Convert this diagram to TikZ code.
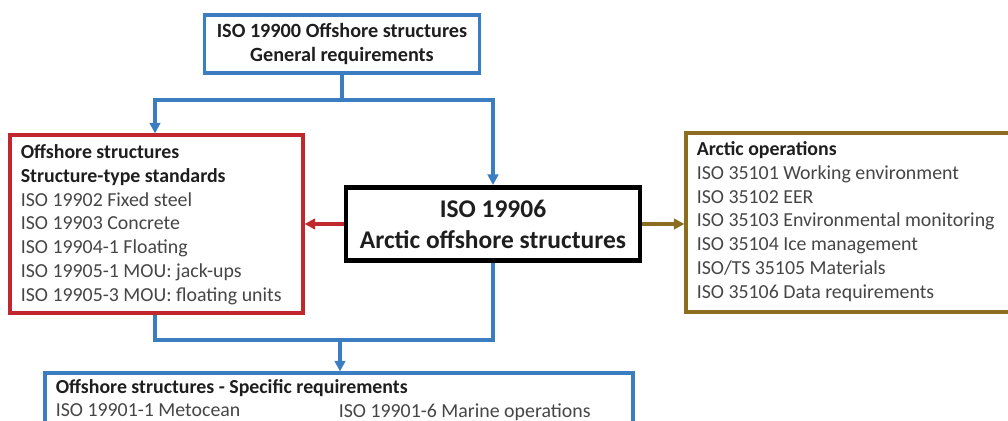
\documentclass[tikz,border=0pt]{standalone}
\usepackage{fontspec}
\setmainfont{Carlito}
\usetikzlibrary{positioning,arrows.meta,calc}
\definecolor{isoblue}{RGB}{58,125,192}
\definecolor{isored}{RGB}{192,40,45}
\definecolor{isoolive}{RGB}{140,108,30}
\definecolor{bodygrey}{RGB}{70,70,70}
\definecolor{headgrey}{RGB}{30,30,30}

\begin{document}
\begin{tikzpicture}[x=0.02cm,y=-0.02cm,
  stdbox/.style={rectangle,line width=1.8pt,fill=white,inner sep=0pt},
  listtext/.style={font=\fontsize{11.3}{13.5}\selectfont,text=bodygrey,align=left,anchor=north west,inner sep=0pt},
  bluelink/.style={isoblue,line width=1.8pt},
  bluearrow/.style={bluelink,-{Triangle[length=6pt,width=6pt]}},
  redarrow/.style={isored,line width=1.8pt,-{Triangle[length=6pt,width=6pt]}},
  olivearrow/.style={isoolive,line width=1.8pt,-{Triangle[length=6pt,width=6pt]}}
]
\clip (0,0) rectangle (1008,421);
\fill[white] (0,0) rectangle (1008,421);

% Top: general requirements
\node[stdbox,draw=isoblue,minimum width=275*0.02cm,minimum height=58*0.02cm,
  font=\bfseries\fontsize{11.5}{13.6}\selectfont,text=headgrey,align=center]
  (general) at (342,44) {ISO 19900 Offshore structures\\General requirements};

% Centre: the standard itself
\node[stdbox,draw=black,line width=2.8pt,minimum width=294*0.02cm,minimum height=73*0.02cm,
  font=\bfseries\fontsize{14.5}{17.6}\selectfont,text=headgrey,align=center]
  (arctic) at (493,224) {ISO 19906\\Arctic offshore structures};

% Left: structure-type standards
\node[stdbox,draw=isored,minimum width=293*0.02cm,minimum height=178*0.02cm]
  (structtype) at (156.5,224) {};
\node[listtext] (structlist) at ([shift={(12,11)}]structtype.north west)
  {\textcolor{headgrey}{\bfseries Offshore structures}\\
   \textcolor{headgrey}{\bfseries Structure-type standards}\\
   ISO 19902 Fixed steel\\
   ISO 19903 Concrete\\
   ISO 19904-1 Floating\\
   ISO 19905-1 MOU: jack-ups\\
   ISO 19905-3 MOU: floating units};

% Right: arctic operations
\node[stdbox,draw=isoolive,minimum width=360*0.02cm,minimum height=179*0.02cm]
  (arcticops) at (866,222.5) {};
\node[listtext] (opslist) at ([shift={(12,10)}]arcticops.north west)
  {\textcolor{headgrey}{\bfseries Arctic operations}\\
   ISO 35101 Working environment\\
   ISO 35102 EER\\
   ISO 35103 Environmental monitoring\\
   ISO 35104 Ice management\\
   ISO/TS 35105 Materials\\
   ISO 35106 Data requirements};

% Bottom: specific requirements
\node[stdbox,draw=isoblue,minimum width=588*0.02cm,minimum height=100*0.02cm]
  (specific) at (339,423) {};
\node[listtext] (spechead) at ([shift={(12,8)}]specific.north west)
  {\textcolor{headgrey}{\bfseries Offshore structures - Specific requirements}};
\node[listtext] (metocean) at ([shift={(0,24)}]spechead.north west) {ISO 19901-1 Metocean};
\node[listtext] (marine) at ([shift={(283,24)}]spechead.north west) {ISO 19901-6 Marine operations};

% Connectors
\coordinate (topbar) at (342,100);
\coordinate (botbar) at (340,340);
\coordinate (lx) at (155,0);
\draw[bluelink] (general.south) -- (topbar);
\draw[bluearrow] (topbar) -| (structtype.north -| lx);
\draw[bluearrow] (topbar) -| (arctic.north);
\draw[bluelink] (structtype.south -| lx) |- (botbar);
\draw[bluelink] (arctic.south) |- (botbar);
\draw[bluearrow] (botbar) -- (specific.north -| botbar);
\draw[redarrow] (arctic.west) -- (structtype.east |- arctic.west);
\draw[olivearrow] (arctic.east) -- (arcticops.west |- arctic.east);

\end{tikzpicture}
\end{document}
